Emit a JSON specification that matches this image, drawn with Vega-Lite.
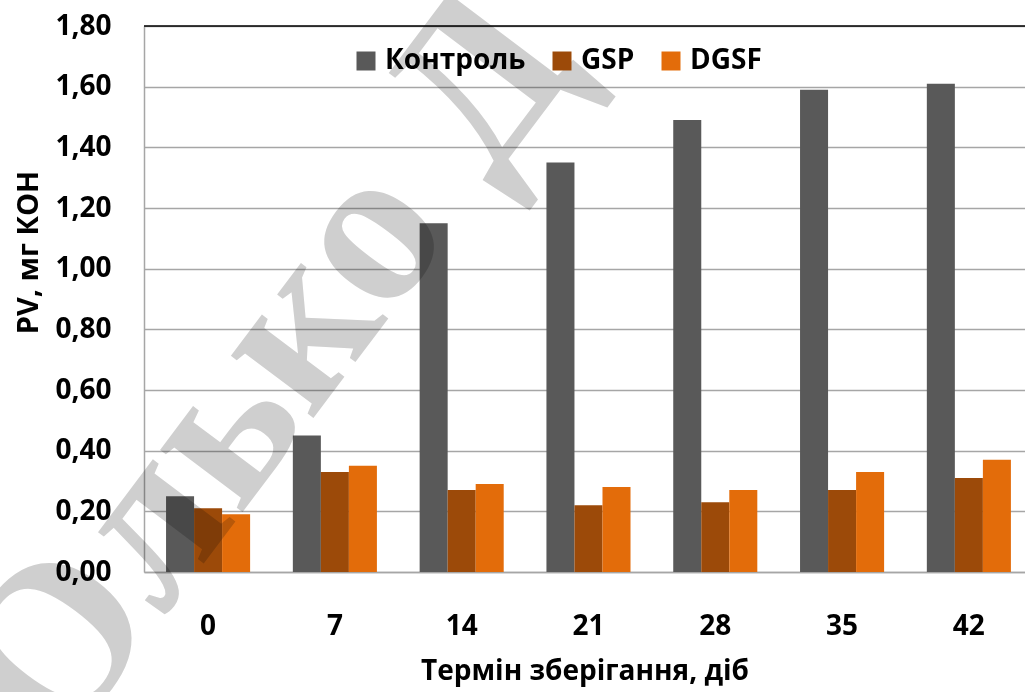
{
  "$schema": "https://vega.github.io/schema/vega-lite/v6.json",
  "width": 881,
  "height": 546,
  "autosize": {"type": "none"},
  "padding": {"left": 144, "top": 26, "right": 0, "bottom": 120},
  "background": "white",
  "config": {"view": {"stroke": null}, "font": "Open Sans"},
  "data": {
    "values": [
      {"day": "0", "group": "Контроль", "value": 0.25},
      {"day": "0", "group": "GSP", "value": 0.21},
      {"day": "0", "group": "DGSF", "value": 0.19},
      {"day": "7", "group": "Контроль", "value": 0.45},
      {"day": "7", "group": "GSP", "value": 0.33},
      {"day": "7", "group": "DGSF", "value": 0.35},
      {"day": "14", "group": "Контроль", "value": 1.15},
      {"day": "14", "group": "GSP", "value": 0.27},
      {"day": "14", "group": "DGSF", "value": 0.29},
      {"day": "21", "group": "Контроль", "value": 1.35},
      {"day": "21", "group": "GSP", "value": 0.22},
      {"day": "21", "group": "DGSF", "value": 0.28},
      {"day": "28", "group": "Контроль", "value": 1.49},
      {"day": "28", "group": "GSP", "value": 0.23},
      {"day": "28", "group": "DGSF", "value": 0.27},
      {"day": "35", "group": "Контроль", "value": 1.59},
      {"day": "35", "group": "GSP", "value": 0.27},
      {"day": "35", "group": "DGSF", "value": 0.33},
      {"day": "42", "group": "Контроль", "value": 1.61},
      {"day": "42", "group": "GSP", "value": 0.31},
      {"day": "42", "group": "DGSF", "value": 0.37}
    ]
  },
  "layer": [
    {
      "mark": {"type": "bar"},
      "encoding": {
        "x": {
          "field": "day",
          "type": "nominal",
          "sort": ["0", "7", "14", "21", "28", "35", "42"],
          "scale": {"paddingInner": 0.337, "paddingOuter": 0.1425, "align": 0.61},
          "axis": {
            "title": "Термін зберігання, діб",
            "titleFont": "Open Sans",
            "titleFontSize": 28,
            "titleFontWeight": "bold",
            "titleColor": "black",
            "titlePadding": 17,
            "labelAngle": 0,
            "labelFont": "Open Sans",
            "labelFontSize": 28,
            "labelFontWeight": "bold",
            "labelColor": "black",
            "labelPadding": 40,
            "ticks": false,
            "tickSize": 0,
            "domainColor": "#a6a6a6",
            "domainWidth": 1.5
          }
        },
        "xOffset": {
          "field": "group",
          "type": "nominal",
          "sort": ["Контроль", "GSP", "DGSF"],
          "scale": {"paddingInner": 0, "paddingOuter": 0}
        },
        "y": {
          "field": "value",
          "type": "quantitative",
          "scale": {"domain": [0, 1.8], "nice": false},
          "axis": {
            "title": "PV, мг КОН",
            "titleFont": "Open Sans",
            "titleFontSize": 29,
            "titleFontWeight": "bold",
            "titleColor": "black",
            "titleX": -107,
            "titleY": 226,
            "titleAngle": 270,
            "titleAlign": "center",
            "titleBaseline": "alphabetic",
            "values": [0, 0.2, 0.4, 0.6, 0.8, 1.0, 1.2, 1.4, 1.6, 1.8],
            "labelExpr": "replace(format(datum.value, '.2f'), '.', ',')",
            "labelFont": "Open Sans",
            "labelFontSize": 28,
            "labelFontWeight": "bold",
            "labelColor": "black",
            "labelPadding": 33,
            "ticks": false,
            "tickSize": 0,
            "domainColor": "#a6a6a6",
            "domainWidth": 1.5,
            "grid": true,
            "gridColor": "#a6a6a6",
            "gridWidth": 1.5
          }
        },
        "color": {
          "field": "group",
          "type": "nominal",
          "sort": ["Контроль", "GSP", "DGSF"],
          "scale": {"domain": ["Контроль", "GSP", "DGSF"], "range": ["#595959", "#9C4A09", "#E36C0A"]},
          "legend": {
            "title": null,
            "orient": "none",
            "legendX": 208,
            "legendY": 21,
            "direction": "horizontal",
            "symbolType": "square",
            "symbolSize": 361,
            "symbolStrokeWidth": 0,
            "symbolOpacity": 1,
            "labelFont": "Open Sans",
            "labelFontSize": 28,
            "labelFontWeight": "bold",
            "labelColor": "black",
            "labelOffset": 5,
            "columnPadding": 22
          }
        }
      }
    },
    {
      "data": {"values": [{}]},
      "mark": {"type": "rule", "color": "black", "strokeWidth": 1.5},
      "encoding": {"y": {"datum": 1.8}}
    },
    {
      "data": {"values": [{}]},
      "mark": {
        "type": "text",
        "font": "Liberation Serif",
        "fontWeight": "bold",
        "fontSize": 225,
        "color": "#cfcfcf",
        "blend": "multiply",
        "angle": 307,
        "align": "center",
        "baseline": "middle",
        "dx": 95
      },
      "encoding": {
        "x": {"datum": "0"},
        "y": {"datum": 0.42},
        "text": {"value": "Олько Д"}
      }
    }
  ]
}
